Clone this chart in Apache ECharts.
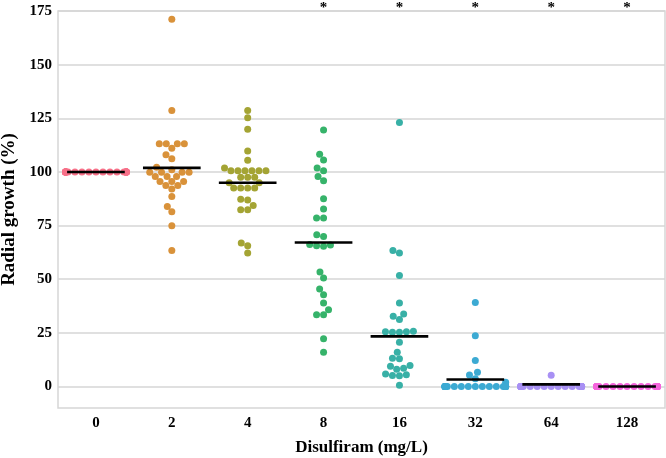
<!DOCTYPE html>
<html><head><meta charset="utf-8">
<script src="https://cdn.jsdelivr.net/npm/echarts@6/dist/echarts.min.js"></script>
<style>html,body{margin:0;padding:0;background:#fff}#c{width:666px;height:458px}</style>
</head><body><div id="c"></div>
<script>
const categories = ['0', '2', '4', '8', '16', '32', '64', '128'];
const colors = ['#f77189', '#d9923a', '#a4a434', '#36b36a', '#38b0a6', '#3caad3', '#a890f4', '#f465dc'];
const yTicks = [0, 25, 50, 75, 100, 125, 150, 175];
const stars = ['', '', '', '*', '*', '*', '*', '*'];
const means = [100, 101.9, 95.0, 67.1, 23.4, 3.3, 1.0, 0];

const g0 = [100, 100, 100, 100, 100, 100, 100, 100, 100, 100, 100, 100, 100, 100, 100, 100, 100, 100, 100, 100, 100, 100, 100, 100, 100, 100, 100];
const g2 = [171.2, 128.6, 113.1, 113.1, 113.1, 113.1, 111.1, 108, 106.2, 102.2, 101, 99.9, 99.9, 99.9, 99.9, 97.9, 97.9, 97.9, 95.5, 95.5, 95.5, 93.7, 93.7, 92, 88.6, 83.9, 81.4, 74.9, 63.4];
const g4 = [128.6, 125.3, 119.9, 109.8, 105.5, 101.8, 100.5, 100.5, 100.5, 100.5, 100.5, 100.5, 97.5, 97.5, 97.5, 95, 95, 92.5, 92.5, 92.5, 92.5, 87.3, 86.9, 84.4, 82.4, 82.4, 66.9, 65.6, 62.2];
const g8 = [119.6, 108.3, 105.6, 101.8, 100.5, 97.9, 95.9, 87.5, 82.7, 78.5, 78.5, 70.7, 69.9, 66.2, 66, 65.6, 65.4, 53.4, 50.6, 45.5, 42.8, 38.9, 35.8, 33.5, 33.5, 22.3, 16];
const g16 = [123, 63.4, 62.2, 51.8, 38.9, 33.8, 32.7, 31.2, 25.8, 25.5, 25.3, 25.3, 25.5, 20.6, 16, 13.2, 12.9, 9.8, 9.5, 8.5, 8, 5.8, 5.5, 5.2, 5.0, 0.6];
const g32 = [39.2, 23.7, 12.1, 6.7, 5.4, 3.6, 2.0, 0, 0, 0, 0, 0, 0, 0, 0, 0, 0, 0, 0, 0, 0, 0, 0, 0, 0, 0, 0];
const g64 = [5.3, 0, 0, 0, 0, 0, 0, 0, 0, 0, 0, 0, 0, 0, 0, 0, 0, 0, 0, 0, 0, 0, 0, 0, 0, 0, 0];
const g128 = [0, 0, 0, 0, 0, 0, 0, 0, 0, 0, 0, 0, 0, 0, 0, 0, 0, 0, 0, 0, 0, 0, 0, 0, 0, 0, 0];
const groups = [g0, g2, g4, g8, g16, g32, g64, g128];

const FONT = "'Liberation Serif', 'Times New Roman', serif";
const DOT_R = 3.5;
const chart = echarts.init(document.getElementById('c'), null, {renderer: 'canvas'});

function dotSeries(offsets) {
  return groups.map((g, ci) => ({
    type: 'custom',
    z: 2,
    data: g.map((v, k) => [ci, v, offsets ? offsets[ci][k] : 0]),
    encode: {x: 0, y: 1},
    renderItem: function (params, api) {
      const p = api.coord([api.value(0), api.value(1)]);
      return {
        type: 'circle',
        shape: {cx: p[0] + api.value(2), cy: p[1], r: DOT_R},
        style: {fill: colors[ci]}
      };
    }
  }));
}

const meanSeries = {
  type: 'custom',
  z: 5,
  data: means.map((m, i) => [i, m]),
  encode: {x: 0, y: 1},
  renderItem: function (params, api) {
    const p = api.coord([api.value(0), api.value(1)]);
    const hw = api.size([1, 0])[0] * 0.38;
    return {
      type: 'line',
      shape: {x1: p[0] - hw, y1: p[1], x2: p[0] + hw, y2: p[1]},
      style: {stroke: '#000', lineWidth: 2.6}
    };
  }
};

const starSeries = {
  type: 'custom',
  z: 6,
  clip: false,
  data: stars.map((s, i) => [i, 175, s]),
  encode: {x: 0, y: 1},
  renderItem: function (params, api) {
    const p = api.coord([api.value(0), api.value(1)]);
    return {
      type: 'text',
      style: {
        text: stars[params.dataIndex], x: p[0], y: p[1] - 10,
        align: 'center', verticalAlign: 'top',
        font: 'bold 15px ' + FONT, fill: '#000'
      }
    };
  }
};

function buildOption(offsets) {
  return {
    animation: false,
    backgroundColor: '#fff',
    grid: {left: 58, right: 1, top: 11, bottom: 50, containLabel: false, outerBoundsMode: 'none',
      show: true, borderColor: '#d6d6d6', borderWidth: 1.5, backgroundColor: 'transparent'},
    xAxis: {
      type: 'category', data: categories,
      name: 'Disulfiram (mg/L)', nameLocation: 'middle', nameGap: 31,
      nameTextStyle: {fontFamily: FONT, fontWeight: 'bold', fontSize: 17, color: '#000'},
      axisLine: {show: false}, axisTick: {show: false},
      axisLabel: {fontFamily: FONT, fontWeight: 'bold', fontSize: 15, color: '#000', margin: 8},
      splitLine: {show: false}
    },
    yAxis: {
      type: 'value', min: -10, max: 175,
      name: 'Radial growth (%)', nameLocation: 'middle', nameGap: 39,
      nameTextStyle: {fontFamily: FONT, fontWeight: 'bold', fontSize: 19, color: '#000'},
      axisLine: {show: false},
      axisTick: {show: false, customValues: yTicks},
      axisLabel: {fontFamily: FONT, fontWeight: 'bold', fontSize: 15, color: '#000', margin: 6, customValues: yTicks},
      splitLine: {show: true, lineStyle: {color: '#d6d6d6', width: 1.5}}
    },
    series: dotSeries(offsets).concat([meanSeries, starSeries])
  };
}

function swarm(ys, d, w) {
  const order = ys.map((y, i) => i).sort((a, b) => ys[b] - ys[a]);
  const placed = [];
  const out = new Array(ys.length);
  for (const i of order) {
    const y = ys[i];
    const nb = placed.filter(p => Math.abs(p.y - y) < d);
    const cands = [0];
    let leftFirst = true;
    for (const p of nb) {
      const dx = Math.sqrt(Math.max(0, d * d - (p.y - y) * (p.y - y)));
      const pair = leftFirst ? [p.x - dx, p.x + dx] : [p.x + dx, p.x - dx];
      cands.push(pair[0], pair[1]);
      leftFirst = !leftFirst;
    }
    const sorted = cands.map((x, k) => ({x, k})).sort((a, b) => (Math.abs(a.x) - Math.abs(b.x)) || (a.k - b.k));
    let chosen = 0;
    for (const c of sorted) {
      if (nb.every(p => (p.x - c.x) * (p.x - c.x) + (p.y - y) * (p.y - y) >= d * d - 1e-6)) { chosen = c.x; break; }
    }
    placed.push({x: chosen, y: y});
    out[i] = chosen;
  }
  return out.map(x => Math.max(-w, Math.min(w, x)));
}

chart.setOption(buildOption(null));
const band = Math.abs(chart.convertToPixel({xAxisIndex: 0}, 1) - chart.convertToPixel({xAxisIndex: 0}, 0));
const offsets = groups.map(g => {
  const ys = g.map(v => chart.convertToPixel({yAxisIndex: 0}, v));
  return swarm(ys, DOT_R * 2, band * 0.4);
});
chart.setOption(buildOption(offsets), true);
</script>
</body></html>
